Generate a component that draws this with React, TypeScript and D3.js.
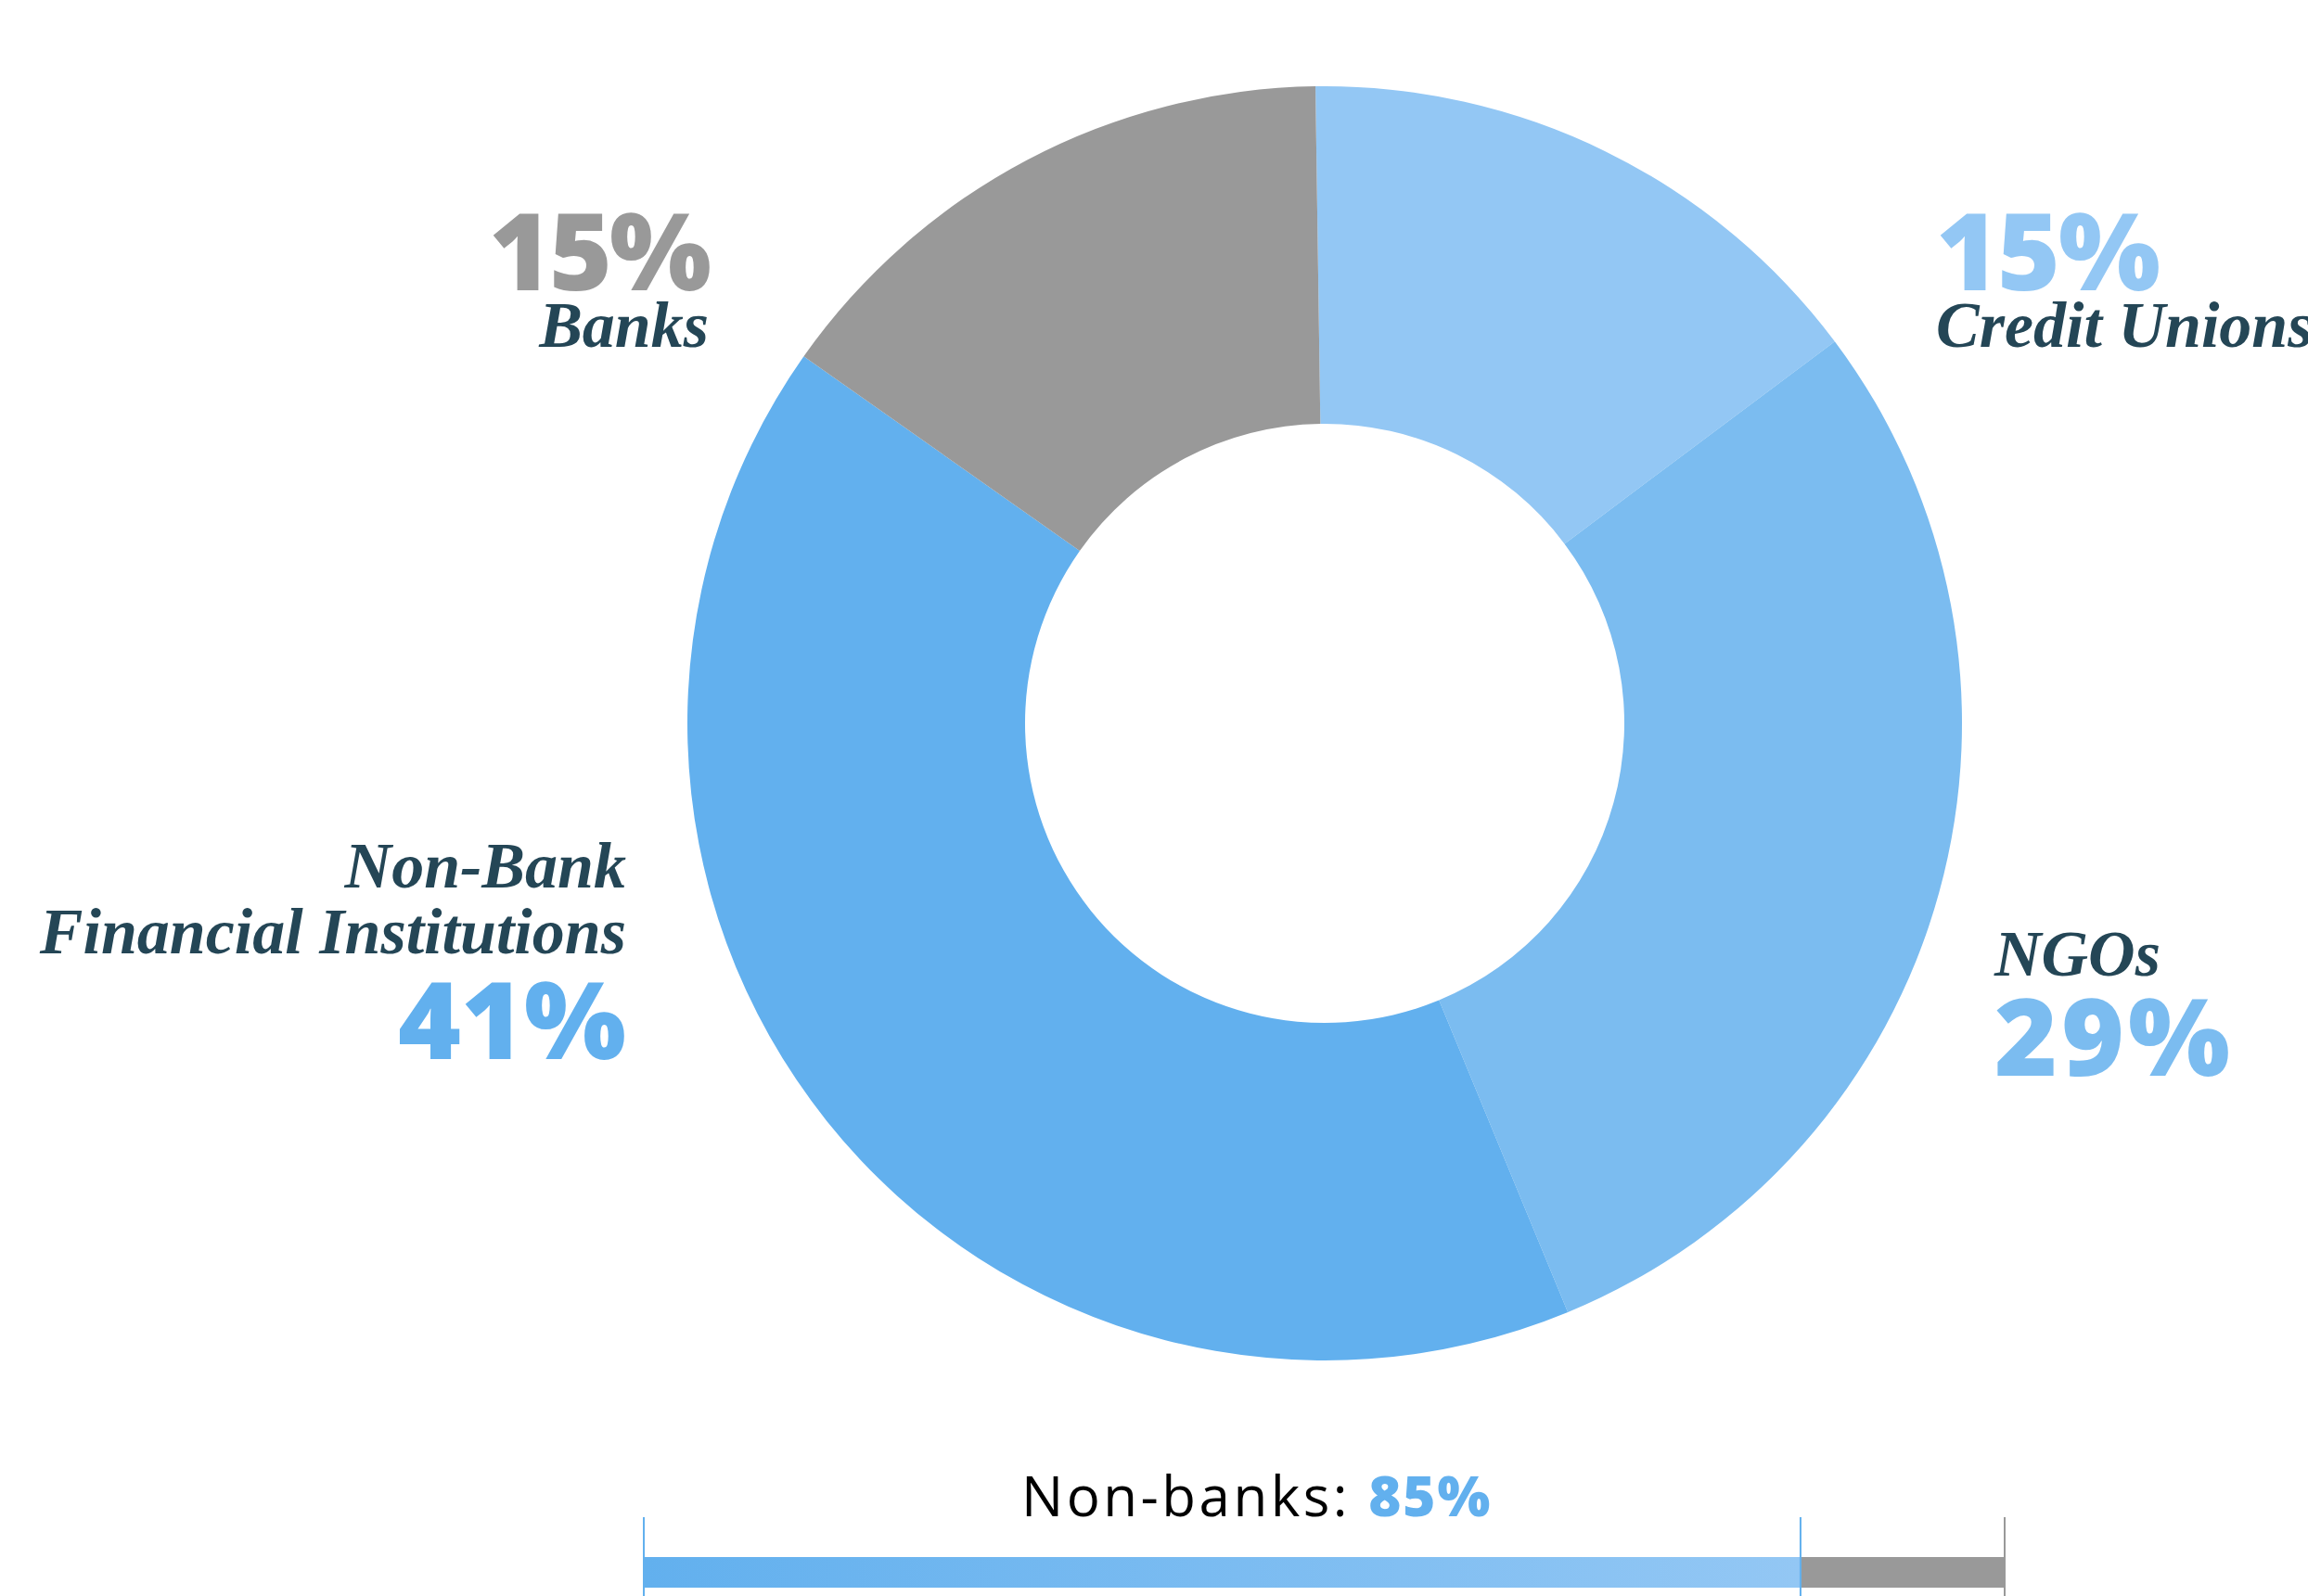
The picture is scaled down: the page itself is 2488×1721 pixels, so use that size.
import React from "react";
import * as d3 from "d3";

const categories = ["Credit Unions", "NGOs", "Non-Bank Financial Institutions", "Banks"];
const shares = [15, 29, 41, 15];
const sliceColors = ["#93C7F4", "#7BBCF0", "#62B0EE", "#999999"];
const barLabels = ["Non-banks", "Banks"];
const barValues = [85, 15];

const W = 2488;
const H = 1721;
const CX = 1428;
const CY = 780;
const R_OUT = 687;
const R_IN = 323;
const START = -0.0145;

const NUM_FONT = "'Open Sans', sans-serif";
const SERIF = "'Liberation Serif', 'DejaVu Serif', serif";
const DARK = "#244656";

// label layout (anchor, x, title baselines, number baseline)
const labelLayout = [
  { anchor: "start", x: 2087, titleLines: ["Credit Unions"], titleY: [374], numY: 313, numSpacing: -2 },
  { anchor: "start", x: 2150, titleLines: ["NGOs"], titleY: [1052], numY: 1160, numSpacing: 4 },
  { anchor: "end", x: 675, titleLines: ["Non-Bank", "Financial Institutions"], titleY: [957, 1028], numY: 1142, numSpacing: 0 },
  { anchor: "end", x: 764, titleLines: ["Banks"], titleY: [374], numY: 313, numSpacing: -3 },
];

export default function App() {
  const pie = d3
    .pie<number>()
    .sort(null)
    .startAngle(START)
    .endAngle(START + Math.PI * 2);
  const arcs = pie(shares);
  const arc = d3.arc<d3.PieArcDatum<number>>().innerRadius(R_IN).outerRadius(R_OUT);

  const total = d3.sum(barValues);
  const x = d3.scaleLinear().domain([0, total]).range([694, 2161]);
  const barTop = 1679;
  const barH = 33;
  const cum = [0, barValues[0], total];

  return (
    <svg
      width={W}
      height={H}
      style={{ position: "absolute", left: 0, top: 0, background: "#fff" }}
    >
      <defs>
        <linearGradient id="barGrad" x1="0" x2="1" y1="0" y2="0">
          <stop offset="0%" stopColor="#62B0EE" />
          <stop offset="100%" stopColor="#93C7F4" />
        </linearGradient>
      </defs>
      <g transform={`translate(${CX},${CY})`}>
        {arcs.map((a, i) => (
          <path key={categories[i]} d={arc(a) || ""} fill={sliceColors[i]} />
        ))}
      </g>

      {labelLayout.map((l, i) => (
        <g key={categories[i]}>
          {l.titleLines.map((t, j) => (
            <text
              key={t}
              x={l.x}
              y={l.titleY[j]}
              textAnchor={l.anchor as any}
              fontFamily={SERIF}
              fontStyle="italic"
              fontWeight={700}
              fontSize={70}
              fill={DARK}
            >
              {t}
            </text>
          ))}
          <text
            x={l.x}
            y={l.numY}
            textAnchor={l.anchor as any}
            fontFamily={NUM_FONT}
            fontWeight={800}
            fontSize={116}
            letterSpacing={l.numSpacing}
            fill={sliceColors[i]}
          >
            {shares[i]}%
          </text>
        </g>
      ))}

      {/* bottom bar */}
      <rect x={x(cum[0])} y={barTop} width={x(cum[1]) - x(cum[0])} height={barH} fill="url(#barGrad)" />
      <rect x={x(cum[1])} y={barTop} width={x(cum[2]) - x(cum[1])} height={barH} fill="#999999" />
      {cum.map((c, i) => (
        <line
          key={i}
          x1={x(c)}
          x2={x(c)}
          y1={1636}
          y2={H}
          stroke={i === 2 ? "#999999" : "#62B0EE"}
          strokeWidth={2}
        />
      ))}
      <text x={1101} y={1635} fontFamily={NUM_FONT} fontSize={60} fill="#000" letterSpacing={3.5}>
        {barLabels[0]}:{" "}
        <tspan fontWeight={800} fill="#62B0EE" letterSpacing={2}>
          {barValues[0]}%
        </tspan>
      </text>
    </svg>
  );
}
